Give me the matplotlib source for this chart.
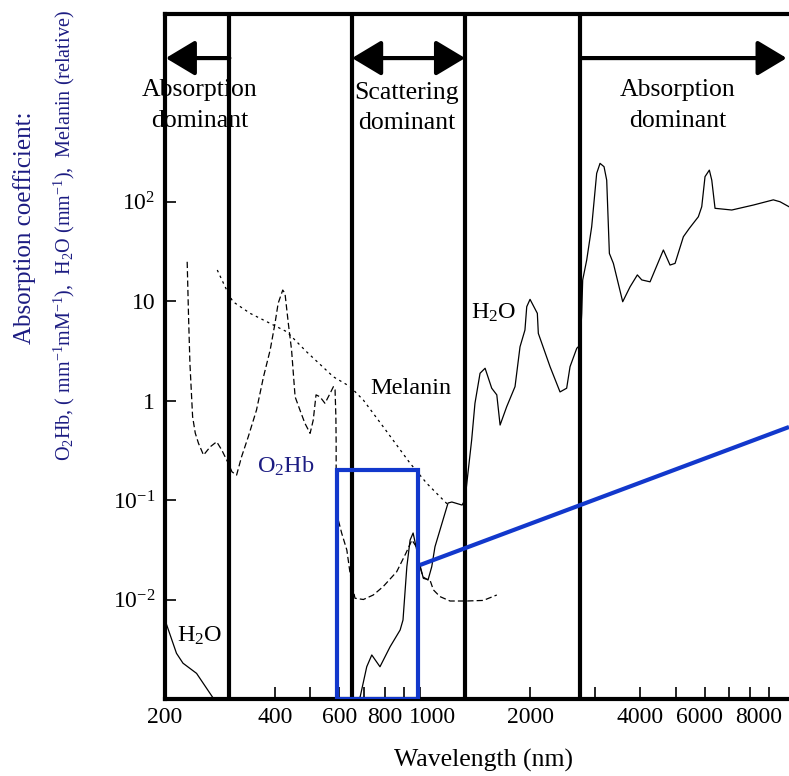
import matplotlib
matplotlib.use("Agg")
import matplotlib.pyplot as plt
from matplotlib.patches import Rectangle, FancyArrowPatch
from matplotlib.ticker import FixedLocator, NullLocator
from matplotlib.transforms import ScaledTranslation

# ---- data (wavelength nm, absorption) ----
h2o_uv_wl = [200, 215, 224, 244, 272]
h2o_uv_val = [0.00622, 0.00288, 0.00229, 0.00181, 0.00100]

h2o_wl = [675, 684, 713, 736, 775, 826, 880, 896, 918, 937, 955, 977, 997,
          1016, 1049, 1074, 1096, 1131, 1190, 1219, 1300, 1324, 1352, 1381,
          1410, 1456, 1503, 1567, 1618, 1652, 1722, 1815, 1873, 1932, 1954,
          1995, 2089, 2102, 2263, 2410, 2513, 2567, 2678, 2734, 2763, 2780,
          2851, 2942, 3036, 3101, 3180, 3234, 3289, 3373, 3577, 3747, 3923,
          4034, 4250, 4622, 4820, 4975, 5243, 5444, 5761, 5886, 6009, 6175,
          6270, 6400, 7112, 8147, 9241, 9640, 10200]
h2o_val = [0.00100, 0.00105, 0.00211, 0.00277, 0.00211, 0.00335, 0.00494,
           0.00622, 0.0214, 0.0396, 0.0466, 0.0314, 0.0222, 0.0169, 0.0157,
           0.0214, 0.0339, 0.0499, 0.0933, 0.0955, 0.089, 0.100, 0.200,
           0.401, 0.937, 1.88, 2.11, 1.33, 1.14, 0.567, 0.866, 1.38, 3.47,
           5.11, 8.77, 10.4, 7.52, 4.73, 2.19, 1.22, 1.33, 2.19, 3.35, 3.61,
           7.52, 16.3, 25.8, 55.8, 192, 242, 224, 164, 30.1, 23.9, 9.84,
           13.9, 18.3, 16.3, 15.6, 32.6, 23.0, 23.9, 44.3, 53.8, 70.3, 88.7,
           178, 207, 164, 85.5, 82.2, 92.2, 104, 99.5, 88.7]

o2hb_wl = [230, 232, 234, 238, 242, 247, 255, 266, 277, 286, 298, 305, 314,
           324, 338, 356, 372, 388, 400, 408, 420, 426, 435, 444, 454, 468,
           483, 499, 509, 518, 531, 548, 566, 578, 584, 587, 588, 588, 596,
           609, 629, 642, 662, 698, 743, 791, 861, 913, 948, 979, 997, 1019,
           1062, 1085, 1131, 1205, 1339, 1486, 1618]
o2hb_val = [24.8, 6.95, 2.37, 0.688, 0.471, 0.371, 0.283, 0.343, 0.385,
            0.318, 0.234, 0.192, 0.178, 0.272, 0.433, 0.803, 1.73, 3.22,
            5.97, 9.48, 12.9, 11.9, 5.97, 3.22, 1.09, 0.803, 0.590, 0.468,
            0.637, 1.14, 1.09, 0.937, 1.18, 1.38, 1.28, 0.688, 0.371, 0.100,
            0.063, 0.0463, 0.0314, 0.0183, 0.0103, 0.0100, 0.0111, 0.0135,
            0.0190, 0.0293, 0.0396, 0.0330, 0.0214, 0.0163, 0.0157, 0.0125,
            0.0107, 0.00966, 0.00966, 0.00979, 0.0111]

melanin_wl = [278, 298, 307, 342, 396, 431, 488, 578, 642, 698, 791, 937,
              1041, 1131, 1192]
melanin_val = [20.5, 11.9, 9.84, 7.52, 5.74, 4.91, 3.09, 1.73, 1.38, 1.01,
               0.545, 0.234, 0.147, 0.108, 0.089]

# region boundaries (nm) and the zoom window
boundaries = [300, 650, 1325, 2734]
zoom_wl = (590, 985)
zoom_top = 0.2
zoom_line_wl = [997, 10200]
zoom_line_val = [0.0222, 0.542]

xticks_major = [200, 400, 600, 800, 1000, 2000, 4000, 6000, 8000]
xticks_minor = [300, 500, 700, 900, 3000, 5000, 7000, 9000]
yticks = [1e-2, 1e-1, 1, 10, 100]
ytick_labels = [r"10$^{-2}$", r"10$^{-1}$", "1", "10", r"10$^{2}$"]
# the source nudges a few crowded labels sideways (points)
xlabel_nudge = {1000: 9, 6000: -4, 8000: 6}

NAVY = "#1c1c82"
BLUE = "#1238cc"

plt.rcParams["font.family"] = ["Liberation Serif", "DejaVu Serif"]
plt.rcParams["mathtext.fontset"] = "custom"
plt.rcParams["mathtext.rm"] = "Liberation Serif"
plt.rcParams["mathtext.it"] = "Liberation Serif:italic"

fig = plt.figure(figsize=(7.89, 7.76), dpi=100)
ax = fig.add_axes([165 / 789, 77 / 776, 1 - 165 / 789, 685 / 776])
ax.set_xscale("log")
ax.set_yscale("log")
ax.set_xlim(200, 10200)
ax.set_ylim(1e-3, 10 ** 3.885)

# curves
ax.plot(h2o_uv_wl, h2o_uv_val, color="black", lw=0.9)
ax.plot(h2o_wl, h2o_val, color="black", lw=0.9)
ax.plot(o2hb_wl, o2hb_val, color="black", lw=0.9, ls=(0, (5, 2.5)))
ax.plot(melanin_wl, melanin_val, color="black", lw=0.9, ls=(0, (2, 3)))

for b in boundaries:
    ax.axvline(b, color="black", lw=3)

# zoom box and pointer line
ax.add_patch(Rectangle((zoom_wl[0], 1e-3), zoom_wl[1] - zoom_wl[0],
                       zoom_top - 1e-3, fill=False, ec=BLUE, lw=3, zorder=4))
ax.plot(zoom_line_wl, zoom_line_val, color=BLUE, lw=3, zorder=4,
        solid_capstyle="butt")

# region arrows
arrow_y = 2767
arrow_kw = dict(mutation_scale=18, lw=3, color="black", zorder=5,
                shrinkA=0, shrinkB=0)
ax.add_patch(FancyArrowPatch((300, arrow_y), (201, arrow_y),
                             arrowstyle="-|>,head_length=1.0,head_width=0.6",
                             **arrow_kw))
ax.add_patch(FancyArrowPatch((650, arrow_y), (1325, arrow_y),
                             arrowstyle="<|-|>,head_length=1.0,head_width=0.6",
                             **arrow_kw))
ax.add_patch(FancyArrowPatch((2734, arrow_y), (10050, arrow_y),
                             arrowstyle="-|>,head_length=1.0,head_width=0.6",
                             **arrow_kw))

region_kw = dict(ha="center", va="center", fontsize=18.5, linespacing=1.5)
ax.text(249, 923, "Absorption\ndominant", **region_kw)
ax.text(919, 871, "Scattering\ndominant", **region_kw)
ax.text(5070, 923, "Absorption\ndominant", **region_kw)

ax.text(942, 1.335, "Melanin", ha="center", va="center", fontsize=17.5)
ax.text(1590, 7.57, r"H$_2$O", ha="center", va="center", fontsize=17.5)
ax.text(248, 0.0043, r"H$_2$O", ha="center", va="center", fontsize=17.5)
ax.text(429, 0.22, r"O$_2$Hb", ha="center", va="center", fontsize=17.5,
        color=NAVY)

# axes styling
for side in ["left", "bottom", "top"]:
    ax.spines[side].set_linewidth(3)
ax.spines["right"].set_visible(False)

ax.xaxis.set_major_locator(FixedLocator(xticks_major))
ax.xaxis.set_minor_locator(FixedLocator(xticks_minor))
ax.set_xticklabels([str(t) for t in xticks_major])
ax.yaxis.set_major_locator(FixedLocator(yticks))
ax.yaxis.set_minor_locator(NullLocator())
ax.set_yticklabels(ytick_labels)
ax.tick_params(axis="x", which="both", direction="in", length=9, width=1.2,
               labelsize=17, pad=6, top=False)
ax.tick_params(axis="y", which="both", direction="in", length=8, width=1.2,
               labelsize=17, pad=7, right=False)

for tick, val in zip(ax.xaxis.get_major_ticks(), xticks_major):
    if val in xlabel_nudge:
        shift = ScaledTranslation(xlabel_nudge[val] / 72, 0, fig.dpi_scale_trans)
        tick.label1.set_transform(tick.label1.get_transform() + shift)

fig.text(484 / 789, 1 - 760 / 776, "Wavelength (nm)", ha="center",
         va="center", fontsize=18.5)
fig.text(25 / 789, 1 - 228 / 776, "Absorption coefficient:", rotation=90,
         ha="center", va="center", fontsize=18, color=NAVY)
fig.text(64 / 789, 1 - 236 / 776,
         r"O$_2$Hb, ( mm$^{-1}$mM$^{-1}$),  H$_2$O (mm$^{-1}$),  Melanin (relative)",
         rotation=90, ha="center", va="center", fontsize=14.5, color=NAVY)

fig.savefig("out.png", dpi=100)
